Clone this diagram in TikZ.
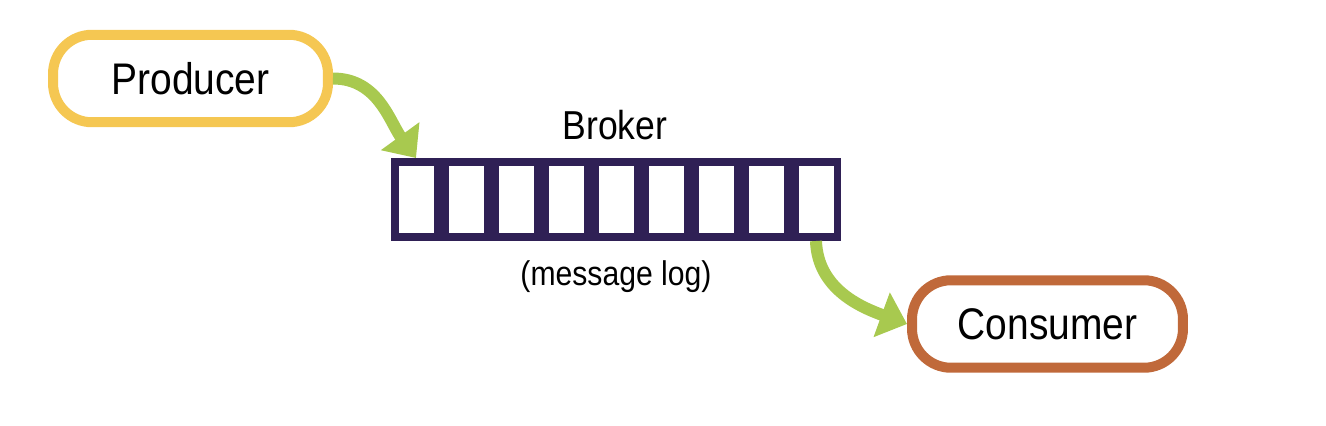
\documentclass[tikz,border=0pt]{standalone}
\usepackage{fontspec}
\setmainfont{Liberation Sans}[FakeStretch=0.88]
\usetikzlibrary{arrows.meta,positioning}

\definecolor{prodyellow}{RGB}{245,199,82}
\definecolor{consorange}{RGB}{192,105,58}
\definecolor{logpurple}{RGB}{47,32,85}
\definecolor{flowgreen}{RGB}{168,201,79}

\begin{document}
\begin{tikzpicture}[
        x=0.02cm, y=0.02cm,
        client/.style={draw, line width=0.2cm, rounded corners=0.78cm, fill=white,
            minimum width=5.5cm, minimum height=1.75cm, inner sep=0pt,
            font=\fontsize{25.2}{30}\selectfont},
        cell/.style={draw=logpurple, line width=0.15cm, fill=white,
            minimum width=0.85cm, minimum height=1.51cm, inner sep=0pt},
        flow/.style={draw=flowgreen, line width=0.24cm,
            -{Triangle[width=0.92cm, length=0.54cm]}}
    ]
        \useasboundingbox (0,0) rectangle (1326,-426);

        \node[client, draw=prodyellow] (prod) at (190.5,-78.5) {Producer};
        \node[client, draw=consorange, minimum width=5.42cm] (cons) at (1047.5,-324) {Consumer};

        % message log cells
        \foreach \i in {1,...,9}
            \node[cell] (c\i) at ({366+50*\i},-199.5) {};

        \node[font=\fontsize{23}{27}\selectfont] (broker) at (615,-125) {Broker};
        \node[font=\fontsize{19.5}{24}\selectfont] (loglabel) at (616,-277) {(message log)};

        % arrows in and out of the broker
        \draw[flow] (prod.east) to[out=0, in=126] (c1.north);
        \draw[flow] (c9.south) to[out=-88, in=160] (cons.west);
    \end{tikzpicture}
\end{document}
